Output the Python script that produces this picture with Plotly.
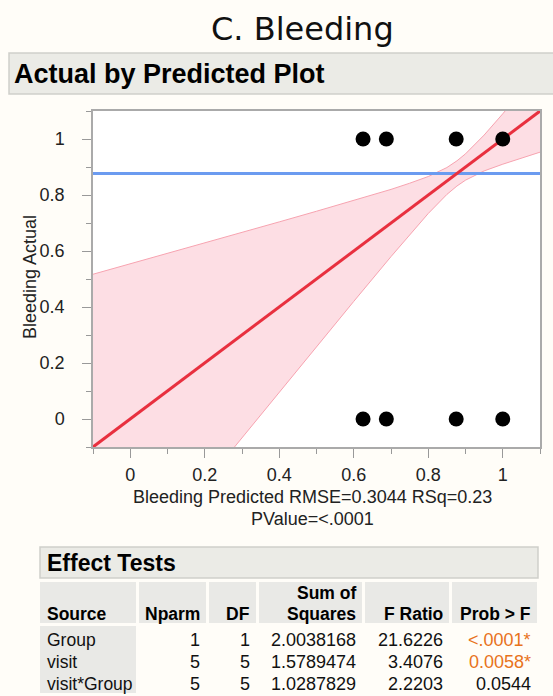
import plotly.graph_objects as go

# ---------------- data ----------------
pred_x = [0.625, 0.6875, 0.875, 1.0, 0.625, 0.6875, 0.875, 1.0]
actual_y = [1, 1, 1, 1, 0, 0, 0, 0]
mean_actual = 0.877
fit_x = [-0.1, 1.1]
fit_y = [-0.1, 1.1]
band_x = [-0.1, 0.0, 0.1, 0.2, 0.3, 0.4, 0.5, 0.6, 0.7, 0.75, 0.8, 0.85, 0.877, 0.9, 0.95, 1.0, 1.05, 1.1]
band_upper = [0.517, 0.554, 0.592, 0.629, 0.666, 0.704, 0.742, 0.780, 0.820, 0.842, 0.866, 0.898, 0.922, 0.947, 1.014, 1.090, 1.168, 1.248]
band_lower = [-0.717, -0.554, -0.392, -0.229, -0.066, 0.096, 0.258, 0.420, 0.580, 0.658, 0.734, 0.802, 0.832, 0.853, 0.886, 0.910, 0.932, 0.953]
tick_vals = [0, 0.2, 0.4, 0.6, 0.8, 1]
tick_text = ["0", "0.2", "0.4", "0.6", "0.8", "1"]

sources = ["Group", "visit", "visit*Group"]
nparm = ["1", "5", "5"]
dfs = ["1", "5", "5"]
sum_sq = ["2.0038168", "1.5789474", "1.0287829"]
f_ratio = ["21.6226", "3.4076", "2.2203"]
prob_f = ["&lt;.0001*", "0.0058*", "0.0544"]
prob_sig = [True, True, False]

# ---------------- layout geometry ----------------
W, H = 553, 696
L, R, T, B = 93, 540, 111, 447


def px(x):
    return (x - L) / (R - L)


def py(y):
    return (B - y) / (B - T)


FONT = "Liberation Sans, Arial, sans-serif"
BG = "#fffdf8"
GREY = "#ebebe6"

fig = go.Figure()

fig.add_trace(go.Scatter(x=band_x, y=band_lower, mode="lines",
                         line=dict(color="#f7a3b0", width=1), hoverinfo="skip"))
fig.add_trace(go.Scatter(x=band_x, y=band_upper, mode="lines", fill="tonexty",
                         fillcolor="rgba(252,200,210,0.6)",
                         line=dict(color="#f7a3b0", width=1), hoverinfo="skip"))
fig.add_trace(go.Scatter(x=fit_x, y=[mean_actual, mean_actual], mode="lines",
                         line=dict(color="#6b9bf0", width=3)))
fig.add_trace(go.Scatter(x=fit_x, y=fit_y, mode="lines",
                         line=dict(color="#e8303f", width=3)))
fig.add_trace(go.Scatter(x=pred_x, y=actual_y, mode="markers",
                         marker=dict(color="black", size=15)))

axis_common = dict(range=[-0.1, 1.1], tickvals=tick_vals, ticktext=tick_text,
                   ticks="outside", ticklen=9, tickcolor="#999", tickwidth=1,
                   showgrid=False, zeroline=False, showline=True, linecolor="#aaa",
                   linewidth=1.5, mirror=True,
                   tickfont=dict(family=FONT, size=18, color="#222"),
                   minor=dict(tickvals=[-0.1, 0.1, 0.3, 0.5, 0.7, 0.9, 1.1],
                              ticks="outside", ticklen=5, tickcolor="#999"))

fig.update_layout(
    width=W, height=H,
    margin=dict(l=L, r=W - R, t=T, b=H - B),
    paper_bgcolor=BG, plot_bgcolor="white",
    showlegend=False,
    xaxis=dict(**axis_common, ticklabelstandoff=2),
    yaxis=dict(**axis_common, ticklabelstandoff=14),
)

shapes = []
ann = []


def text(x, y, s, size, color="#111", anchor="center", angle=0, family=FONT):
    ann.append(dict(xref="paper", yref="paper", x=px(x), y=py(y), text=s, showarrow=False,
                    textangle=angle, font=dict(family=family, size=size, color=color),
                    xanchor=anchor, yanchor="middle"))


def rect(x0, y0, x1, y1, fill, line=None):
    shapes.append(dict(type="rect", xref="paper", yref="paper", x0=px(x0), x1=px(x1),
                       y0=py(y1), y1=py(y0), fillcolor=fill, layer="below",
                       line=dict(color=line or fill, width=1.5 if line else 0)))


# main title
text(302, 29, "C. Bleeding", 32, "#111", family="DejaVu Sans, sans-serif")
# header box
rect(9, 53, 560, 94, GREY, "#cfcfca")
text(12, 74, "<b>Actual by Predicted Plot</b>", 27, "#000", "left")

# axis titles
text(30, 277, "Bleeding Actual", 18, "#222", angle=-90)
text(312, 497, "Bleeding Predicted RMSE=0.3044 RSq=0.23", 18, "#222")
text(312, 519, "PValue=&lt;.0001", 18, "#222")

# Effect Tests box
rect(40, 547, 538, 578, GREY, "#cfcfca")
text(45, 563, "<b>Effect Tests</b>", 23, "#000", "left")

# column header cells
col_edges = [40, 137, 207, 257, 363, 450, 538]
for i in range(len(col_edges) - 1):
    rect(col_edges[i] + (0 if i == 0 else 2), 582, col_edges[i + 1] - 1, 623, "#e9e9e6")
# source column grey cells
rect(40, 626, 136, 693, "#e9e9e6")

hs = 17.5
text(45, 614, "<b>Source</b>", hs, "#000", "left")
right_edges = [202, 252, 358, 445, 533]
headers = ["<b>Nparm</b>", "<b>DF</b>", "<b>Squares</b>", "<b>F Ratio</b>", "<b>Prob &gt; F</b>"]
for xr, h in zip(right_edges, headers):
    text(xr, 614, h, hs, "#000", "right")
text(358, 593, "<b>Sum of</b>", hs, "#000", "right")

row_y = [640, 662, 684]
ds = 18
for r in range(3):
    text(45, row_y[r], sources[r], 17.5, "#111", "left")
    vals = [nparm[r], dfs[r], sum_sq[r], f_ratio[r]]
    for xr, v in zip(right_edges[:4], vals):
        text(xr, row_y[r], v, ds, "#111", "right")
    text(533, row_y[r], prob_f[r], ds, "#e8731c" if prob_sig[r] else "#111", "right")

fig.update_layout(shapes=shapes, annotations=ann)
fig.write_html("out.html", config={"displayModeBar": False},
               post_script="document.body.style.margin='0';document.body.style.background='#fffdf8';")
